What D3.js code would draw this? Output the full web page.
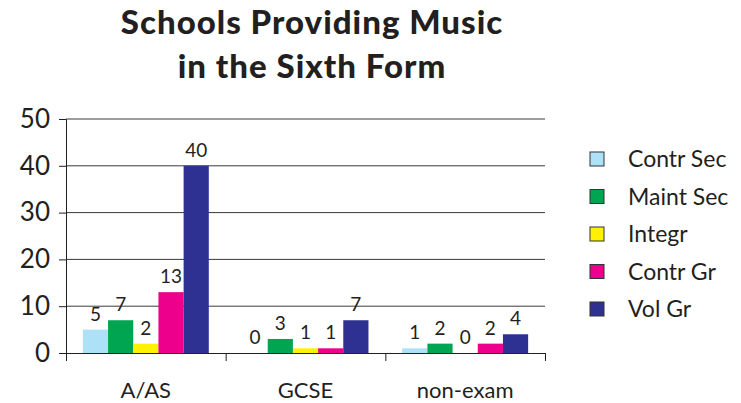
<!DOCTYPE html>
<html>
<head>
<meta charset="utf-8">
<script src="https://cdn.jsdelivr.net/npm/d3@7"></script>
<style>
  html, body { margin: 0; padding: 0; background: #fff; }
  svg { display: block; font-family: Lato, "Open Sans", sans-serif; }
</style>
</head>
<body>
<svg id="chart" width="741" height="403"></svg>
<script>
// Categories, series and values
const categories = ["A/AS", "GCSE", "non-exam"];
const seriesNames = ["Contr Sec", "Maint Sec", "Integr", "Contr Gr", "Vol Gr"];
const seriesColors = ["#ade1f8", "#00a551", "#fff200", "#ec008c", "#2e3192"];
const contrSec = [5, 0, 1];
const maintSec = [7, 3, 2];
const integr = [2, 1, 0];
const contrGr = [13, 1, 2];
const volGr = [40, 7, 4];
const yTicks = [0, 10, 20, 30, 40, 50];
const titleLines = ["Schools Providing Music", "in the Sixth Form"];

const seriesValues = [contrSec, maintSec, integr, contrGr, volGr];

const svg = d3.select("#chart");
const plot = { left: 66, right: 545, top: 119, bottom: 353 };

const y = d3.scaleLinear().domain([0, 50]).range([plot.bottom, plot.top]);
const x0 = d3.scaleBand().domain(categories).range([plot.left, plot.right]);
const x1 = d3.scaleBand().domain(seriesNames)
  .range([0, x0.bandwidth()]).paddingInner(0).paddingOuter(0.67);
const color = d3.scaleOrdinal().domain(seriesNames).range(seriesColors);

// Title
svg.append("g").selectAll("text").data(titleLines).join("text")
  .attr("x", 312)
  .attr("y", (d, i) => 34 + i * 44)
  .attr("text-anchor", "middle")
  .attr("font-size", 33)
  .attr("font-weight", 900)
  .attr("letter-spacing", 1)
  .attr("fill", "#231f20")
  .text(d => d);

// Horizontal gridlines
svg.append("g").selectAll("line").data(yTicks.filter(t => t > 0)).join("line")
  .attr("x1", plot.left).attr("x2", plot.right)
  .attr("y1", d => y(d)).attr("y2", d => y(d))
  .attr("stroke", "#3a3a3a").attr("stroke-width", 1);

// Y axis
const yAxis = svg.append("g")
  .attr("transform", `translate(${plot.left},0)`)
  .call(d3.axisLeft(y).tickValues(yTicks).tickSize(7).tickPadding(9));
yAxis.select(".domain").attr("stroke", "#231f20");
yAxis.selectAll(".tick line").attr("stroke", "#231f20");
yAxis.selectAll("text").attr("font-size", 26).attr("fill", "#231f20")
  .attr("font-family", "Lato, 'Open Sans', sans-serif");

// Bars
const rows = categories.map((c, ci) => ({
  category: c,
  values: seriesNames.map((s, si) => ({ series: s, value: seriesValues[si][ci] }))
}));

const groups = svg.append("g").selectAll("g").data(rows).join("g")
  .attr("transform", d => `translate(${x0(d.category)},0)`);

groups.selectAll("rect").data(d => d.values).join("rect")
  .attr("x", d => x1(d.series))
  .attr("width", x1.bandwidth())
  .attr("y", d => y(d.value))
  .attr("height", d => y(0) - y(d.value))
  .attr("fill", d => color(d.series));

// Value labels
groups.selectAll("text").data(d => d.values).join("text")
  .attr("x", d => x1(d.series) + x1.bandwidth() / 2)
  .attr("y", d => y(d.value) - 9)
  .attr("text-anchor", "middle")
  .attr("font-size", 19)
  .attr("fill", "#231f20")
  .text(d => d.value);

// X axis: baseline with ticks at category boundaries
const boundaries = [plot.left].concat(categories.map(c => x0(c) + x0.bandwidth()));
const xb = d3.scaleLinear().domain([plot.left, plot.right]).range([plot.left, plot.right]);
const xBoundAxis = svg.append("g")
  .attr("transform", `translate(0,${plot.bottom})`)
  .call(d3.axisBottom(xb).tickValues(boundaries).tickSize(8).tickSizeOuter(0).tickFormat(""));
xBoundAxis.select(".domain").attr("stroke", "#231f20");
xBoundAxis.selectAll(".tick line").attr("stroke", "#231f20");

// Category labels
const xAxis = svg.append("g")
  .attr("transform", `translate(0,${plot.bottom})`)
  .call(d3.axisBottom(x0).tickSize(0).tickPadding(29));
xAxis.select(".domain").remove();
xAxis.selectAll("text").attr("font-size", 22).attr("fill", "#231f20")
  .attr("font-family", "Lato, 'Open Sans', sans-serif");

// Legend
const legend = svg.append("g").selectAll("g").data(seriesNames).join("g")
  .attr("transform", (d, i) => `translate(590,${159 + i * 37.5})`);
legend.append("rect")
  .attr("x", 0).attr("y", -7)
  .attr("width", 14).attr("height", 14)
  .attr("fill", d => color(d))
  .attr("stroke", "#333").attr("stroke-width", 1);
legend.append("text")
  .attr("x", 38).attr("y", 0).attr("dy", "0.35em")
  .attr("font-size", 23)
  .attr("fill", "#231f20")
  .text(d => d);
</script>
</body>
</html>
